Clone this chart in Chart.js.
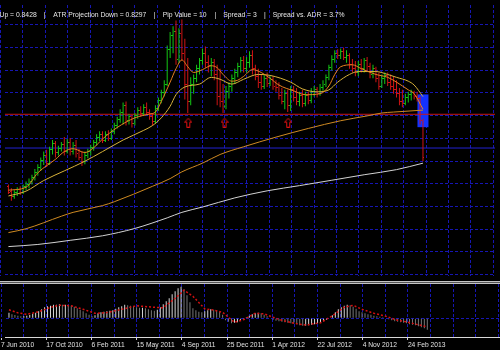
<!DOCTYPE html>
<html>
<head>
<meta charset="utf-8">
<title>Weekly chart with ATR projection</title>
<script src="https://cdn.jsdelivr.net/npm/chart.js@4.4.1/dist/chart.umd.min.js"></script>
<style>
  html, body { margin: 0; padding: 0; background: #000; }
  #wrap { position: relative; width: 500px; height: 350px; overflow: hidden; background: #000; }
  #priceChart { position: absolute; left: 0; top: 0; }
  #macdChart { position: absolute; left: 0; top: 281px; }
</style>
</head>
<body>
<div id="wrap">
  <canvas id="priceChart" width="500" height="281"></canvas>
  <canvas id="macdChart" width="500" height="69"></canvas>
</div>
<script>
// --- Data (one entry per weekly bar) ---
const barOpen = [
  .712, .707, .701, .706, .709, .706, .712, .714, .717, .721,
  .726, .732, .739, .744, .736, .750, .756, .747, .751, .755,
  .748, .757, .748, .754, .746, .742, .738, .744, .748, .752,
  .757, .763, .766, .760, .766, .762, .769, .775, .781, .789,
  .796, .780, .784, .777, .785, .791, .787, .794, .789, .784,
  .779, .793, .801, .809, .818, .854, .868, .873, .844, .870,
  .850, .818, .800, .818, .824, .834, .842, .850, .840, .837,
  .840, .828, .805, .800, .795, .810, .815, .824, .830, .836,
  .842, .834, .840, .848, .834, .826, .820, .816, .824, .819,
  .823, .816, .814, .806, .800, .808, .796, .812, .804, .800,
  .806, .798, .806, .801, .810, .812, .808, .814, .818, .825,
  .835, .844, .850, .848, .852, .846, .848, .838, .834, .830,
  .838, .834, .842, .836, .828, .834, .824, .816, .824, .827,
  .820, .816, .812, .808, .800, .798, .804, .807, .809, .805,
  .803, .780
];
const barHigh = [
  .714, .710, .708, .711, .712, .714, .717, .720, .724, .730,
  .735, .742, .748, .750, .753, .760, .759, .754, .758, .763,
  .761, .762, .758, .760, .751, .748, .748, .751, .755, .760,
  .766, .769, .769, .769, .770, .772, .778, .784, .792, .799,
  .800, .787, .786, .788, .794, .795, .797, .799, .792, .788,
  .796, .804, .812, .822, .858, .872, .878, .884, .876, .885,
  .865, .845, .825, .828, .838, .845, .855, .857, .848, .845,
  .844, .838, .834, .818, .816, .820, .828, .834, .840, .846,
  .847, .846, .852, .853, .838, .834, .828, .828, .830, .826,
  .826, .822, .820, .814, .812, .812, .816, .816, .814, .810,
  .812, .810, .810, .814, .816, .815, .818, .822, .828, .838,
  .848, .853, .854, .855, .856, .853, .850, .844, .842, .842,
  .844, .845, .846, .840, .838, .836, .830, .828, .830, .830,
  .828, .826, .822, .814, .812, .808, .810, .812, .811, .810,
  .805, .782
];
const barLow = [
  .704, .697, .699, .702, .703, .704, .708, .710, .714, .718,
  .723, .728, .734, .732, .734, .745, .742, .744, .748, .744,
  .746, .744, .745, .742, .739, .733, .735, .741, .744, .749,
  .754, .759, .757, .758, .759, .760, .766, .772, .778, .776,
  .775, .776, .773, .775, .782, .784, .785, .786, .781, .775,
  .777, .790, .798, .805, .816, .845, .850, .838, .840, .842,
  .802, .788, .796, .808, .820, .828, .838, .835, .830, .826,
  .822, .796, .794, .788, .792, .803, .810, .818, .825, .830,
  .830, .830, .835, .828, .822, .814, .812, .813, .815, .816,
  .812, .810, .802, .797, .792, .789, .790, .800, .796, .795,
  .794, .795, .797, .798, .805, .804, .806, .811, .815, .822,
  .832, .840, .844, .844, .843, .840, .834, .830, .826, .826,
  .830, .830, .832, .824, .824, .820, .812, .814, .818, .816,
  .812, .808, .804, .796, .794, .796, .799, .801, .802, .800,
  .776, .738
];
const barClose = [
  .706, .701, .706, .709, .706, .712, .714, .717, .721, .726,
  .732, .739, .744, .736, .750, .756, .747, .751, .755, .748,
  .757, .748, .754, .746, .742, .738, .744, .748, .752, .757,
  .763, .766, .760, .766, .762, .769, .775, .781, .789, .796,
  .780, .784, .777, .785, .791, .787, .794, .789, .784, .779,
  .793, .801, .809, .818, .854, .868, .873, .844, .870, .850,
  .818, .800, .818, .824, .834, .842, .850, .840, .837, .840,
  .828, .805, .800, .795, .810, .815, .824, .830, .836, .842,
  .834, .840, .848, .834, .826, .820, .816, .824, .819, .823,
  .816, .814, .806, .800, .808, .796, .812, .804, .800, .806,
  .798, .806, .801, .810, .812, .808, .814, .818, .825, .835,
  .844, .850, .848, .852, .846, .848, .838, .834, .830, .838,
  .834, .842, .836, .828, .834, .824, .816, .824, .827, .820,
  .816, .812, .808, .800, .798, .804, .807, .809, .805, .803,
  .780, .742
];

// moving averages, read at sampled bars
const fastMaBar = [0, 6, 10, 16, 19, 22, 26, 29, 32, 37, 43, 48, 50, 52, 55, 57, 59, 61, 63, 66, 69, 71, 73, 76, 78, 80, 83, 86, 89, 92, 97, 101, 106, 109, 111, 113, 117, 120, 125, 129, 132, 136, 138, 141];
const fastMaVal = [.708, .711, .726, .740, .748, .751, .747, .752, .761, .773, .783, .787, .789, .800, .820, .834, .843, .836, .830, .833, .837, .835, .828, .821, .822, .826, .833, .830, .824, .817, .811, .807, .808, .816, .828, .836, .838, .834, .828, .825, .820, .812, .808, .792];
const slowMaBar = [0, 6, 12, 19, 26, 32, 39, 46, 49, 52, 55, 57, 60, 65, 69, 72, 76, 80, 85, 89, 96, 100, 105, 109, 112, 116, 119, 125, 129, 132, 136, 138, 141];
const slowMaVal = [.702, .707, .718, .728, .738, .748, .760, .770, .775, .783, .795, .807, .815, .818, .825, .823, .818, .823, .828, .827, .820, .813, .810, .812, .820, .828, .831, .831, .828, .825, .821, .817, .805];
const ma100Bar = [0, 6, 18, 22, 32, 36, 49, 55, 59, 66, 72, 80, 91, 102, 113, 122, 127, 131, 141];
const ma100Val = [.664, .668, .681, .685, .692, .696, .712, .720, .727, .736, .745, .753, .763, .772, .780, .785, .788, .789, .791];
const ma200Bar = [0, 10, 21, 32, 43, 54, 59, 66, 77, 88, 99, 110, 121, 132, 141];
const ma200Val = [.6495, .6517, .656, .6607, .6683, .6793, .685, .6905, .700, .7073, .7127, .7183, .724, .7293, .736];

// horizontal levels, ATR projection box, arrows
const levelPrices = [0.7867, 0.7517];
const projBar = 141;
const projRange = [0.7733, 0.8073];
const arrowBar = [61.17, 73.5, 95.17];
const arrowPrice = [0.778, 0.778, 0.778];

// lower panel histogram and signal
const macdHist = [
  0.0055, 0.0040, 0.0033, 0.0025, 0.0020, 0.0020, 0.0025, 0.0033, 0.0045, 0.0055,
  0.0070, 0.0090, 0.0110, 0.0120, 0.0125, 0.0135, 0.0135, 0.0140, 0.0135, 0.0135,
  0.0130, 0.0125, 0.0115, 0.0100, 0.0085, 0.0070, 0.0050, 0.0035, 0.0020, 0.0030,
  0.0050, 0.0060, 0.0065, 0.0070, 0.0075, 0.0080, 0.0095, 0.0110, 0.0120, 0.0135,
  0.0130, 0.0125, 0.0120, 0.0110, 0.0105, 0.0105, 0.0100, 0.0090, 0.0080, 0.0075,
  0.0085, 0.0110, 0.0140, 0.0170, 0.0200, 0.0240, 0.0270, 0.0300, 0.0315, 0.0290,
  0.0230, 0.0160, 0.0100, 0.0080, 0.0065, 0.0060, 0.0070, 0.0080, 0.0090, 0.0085,
  0.0080, 0.0065, 0.0035, -0.0020, -0.0035, -0.0050, -0.0045, -0.0040, -0.0025, -0.0010,
  0.0010, 0.0025, 0.0040, 0.0050, 0.0055, 0.0050, 0.0035, 0.0020, 0.0005, -0.0015,
  -0.0025, -0.0030, -0.0035, -0.0040, -0.0045, -0.0050, -0.0055, -0.0060, -0.0070, -0.0075,
  -0.0075, -0.0070, -0.0065, -0.0060, -0.0050, -0.0040, -0.0030, -0.0015, 0.0005, 0.0030,
  0.0060, 0.0090, 0.0110, 0.0125, 0.0135, 0.0130, 0.0115, 0.0095, 0.0070, 0.0060,
  0.0050, 0.0040, 0.0035, 0.0025, 0.0020, 0.0015, 0.0010, 0.0005, -0.0010, -0.0020,
  -0.0030, -0.0035, -0.0040, -0.0045, -0.0050, -0.0060, -0.0065, -0.0070, -0.0080, -0.0090,
  -0.0100, -0.0115
];
const macdSigBar = [0, 3, 6, 10, 14, 17, 21, 25, 29, 33, 38, 43, 49, 52, 56, 59, 62, 66, 69, 72, 76, 79, 83, 86, 89, 92, 96, 100, 105, 109, 113, 116, 119, 123, 127, 131, 134, 138, 141];
const macdSigVal = [0.0085, 0.0055, 0.0040, 0.0065, 0.0110, 0.0130, 0.0125, 0.0090, 0.0050, 0.0057, 0.0090, 0.0125, 0.0110, 0.0105, 0.0200, 0.0280, 0.0220, 0.0095, 0.0083, 0.0060, -0.0040, -0.0015, 0.0050, 0.0045, 0.0010, -0.0020, -0.0050, -0.0067, -0.0045, 0.0025, 0.0110, 0.0130, 0.0090, 0.0050, 0.0020, -0.0020, -0.0035, -0.0065, -0.0085];

// --- Axes: grid positions (bar units / price units) and date labels ---
const timeGrid = [-2.686, 4.933, 12.552, 20.171, 27.790, 35.409, 43.028, 50.647, 58.266, 65.885, 73.504, 81.123, 88.742, 96.361, 103.980, 111.599, 119.218, 126.837, 134.456, 142.075, 149.694, 157.313, 164.932];
const timeLabels = ['7 Jun 2010', '', '17 Oct 2010', '', '6 Feb 2011', '', '15 May 2011', '', '4 Sep 2011', '', '25 Dec 2011', '', '1 Apr 2012', '', '22 Jul 2012', '', '4 Nov 2012', '', '24 Feb 2013', '', '', '', ''];
const priceGrid = [0.8793, 0.8558, 0.8323, 0.8088, 0.7853, 0.7618, 0.7382, 0.7147, 0.6912, 0.6677, 0.6442, 0.6207];
const headerParts = ['ATR Projection Up = 0.8428', 'ATR Projection Down = 0.8297', 'Pip Value = 10', 'Spread = 3', 'Spread vs. ADR = 3.7%'];

// --- Styles ---
const UP = '#14c814';
const DOWN = '#d01414';
const GRID = '#1616b4';
const DASH = [3, 2];
const X_MIN = -7 / 6;
const X_MAX = X_MIN + 500 / 3;
const FONT = '"Liberation Sans", Arial, sans-serif';

const pts = (xs, ys) => xs.map((x, i) => ({ x: x, y: ys[i] }));
const barColors = barClose.map((c, i) => c >= barOpen[i] ? UP : DOWN);

function makeArrow() {
  const c = document.createElement('canvas');
  c.width = 8; c.height = 10;
  const g = c.getContext('2d');
  g.strokeStyle = '#e01010';
  g.lineWidth = 1;
  g.beginPath();
  g.moveTo(4, 0.5); g.lineTo(0.5, 4.5); g.lineTo(2.5, 4.5); g.lineTo(2.5, 9.5);
  g.lineTo(5.5, 9.5); g.lineTo(5.5, 4.5); g.lineTo(7.5, 4.5); g.closePath();
  g.stroke();
  return c;
}

function maLine(xs, ys, color, order) {
  return {
    type: 'line', data: pts(xs, ys), borderColor: color, borderWidth: 1,
    pointRadius: 0, cubicInterpolationMode: 'monotone', order: order
  };
}

// --- Plugins ---
const ohlcTicks = {
  id: 'ohlcTicks',
  afterDatasetDraw(chart, args) {
    if (args.index !== 0) return;
    const xs = chart.scales.x, ys = chart.scales.y, ctx = chart.ctx;
    ctx.save();
    barClose.forEach((c, i) => {
      const x = Math.floor(xs.getPixelForValue(i));
      ctx.fillStyle = barColors[i];
      ctx.fillRect(x - 1, Math.round(ys.getPixelForValue(barOpen[i]) - 0.5), 1, 1);
      ctx.fillRect(x + 1, Math.round(ys.getPixelForValue(c) - 0.5), 1, 1);
    });
    ctx.restore();
  }
};

const header = {
  id: 'header',
  afterDraw(chart) {
    const ctx = chart.ctx;
    ctx.save();
    ctx.font = '6.8px ' + FONT;
    ctx.fillStyle = '#e6e6e6';
    ctx.textBaseline = 'middle';
    ctx.textAlign = 'right';
    ctx.fillText(headerParts[0], 36.7, 15);
    ctx.textAlign = 'left';
    const starts = [0, 53.3, 162.7, 223.3, 272.7];
    for (let k = 1; k < headerParts.length; k++) ctx.fillText(headerParts[k], starts[k], 15);
    ctx.textAlign = 'center';
    [44.3, 154.3, 215.7, 265].forEach(x => ctx.fillText('|', x, 15));
    ctx.restore();
  }
};

const separator = {
  id: 'separator',
  beforeDraw(chart) {
    const ctx = chart.ctx;
    ctx.save();
    ctx.fillStyle = '#c4c4c4'; ctx.fillRect(0, 0, 500, 1);
    ctx.fillStyle = '#555555'; ctx.fillRect(0, 1, 500, 1);
    ctx.fillStyle = '#c4c4c4'; ctx.fillRect(0, 2, 500, 1);
    ctx.restore();
  }
};

const common = {
  responsive: false,
  animation: false,
  devicePixelRatio: 1,
  events: [],
  plugins: { legend: { display: false }, tooltip: { enabled: false } }
};

// --- Price chart ---
new Chart(document.getElementById('priceChart'), {
  type: 'line',
  data: {
    datasets: [
      {
        type: 'bar', data: barClose.map((_, i) => ({ x: i, y: [barLow[i], barHigh[i]] })),
        backgroundColor: barColors, barThickness: 1, grouped: false, inflateAmount: 0, borderWidth: 0, order: 7
      },
      {
        type: 'bar', data: [{ x: projBar, y: projRange }], backgroundColor: '#1432ff',
        barThickness: 11, grouped: false, inflateAmount: 0, borderWidth: 0, order: 9
      },
      { type: 'line', data: pts([X_MIN - 1, X_MAX + 1], [levelPrices[0], levelPrices[0]]), borderColor: '#c81818', borderWidth: 1, pointRadius: 0, order: 8 },
      { type: 'line', data: pts([X_MIN - 1, X_MAX + 1], [levelPrices[1], levelPrices[1]]), borderColor: '#2222d2', borderWidth: 1, pointRadius: 0, order: 8 },
      maLine(ma200Bar, ma200Val, '#d2d2d2', 6),
      maLine(ma100Bar, ma100Val, '#cf8a22', 6),
      maLine(slowMaBar, slowMaVal, '#d8b23a', 4),
      maLine(fastMaBar, fastMaVal, '#e8801e', 3),
      {
        type: 'scatter', data: pts(arrowBar, arrowPrice), pointStyle: makeArrow(),
        pointRadius: 4, showLine: false, order: 1
      }
    ]
  },
  options: Object.assign({}, common, {
    layout: { padding: 0 },
    scales: {
      x: {
        type: 'linear', min: X_MIN, max: X_MAX, offset: false,
        grid: { color: GRID, drawTicks: false, offset: false },
        border: { display: false, dash: DASH },
        ticks: { display: false },
        afterBuildTicks: s => { s.ticks = timeGrid.map(v => ({ value: v })); },
        afterFit: s => { s.height = 0; }
      },
      y: {
        type: 'linear', min: 0.619, max: 0.9,
        grid: { color: GRID, drawTicks: false },
        border: { display: false, dash: DASH },
        ticks: { display: false },
        afterBuildTicks: s => { s.ticks = priceGrid.map(v => ({ value: v })); },
        afterFit: s => { s.width = 0; }
      }
    }
  }),
  plugins: [ohlcTicks, header]
});

// --- Histogram panel ---
new Chart(document.getElementById('macdChart'), {
  type: 'line',
  data: {
    datasets: [
      {
        type: 'bar', data: pts(macdHist.map((_, i) => i), macdHist),
        backgroundColor: macdHist.map((v, i) => (i > 0 && v < macdHist[i - 1]) ? '#767676' : '#d6d6d6'),
        barThickness: 1, grouped: false, inflateAmount: 0, borderWidth: 0, order: 2
      },
      {
        type: 'line', data: pts(macdSigBar, macdSigVal), borderColor: '#d41010', borderWidth: 1.5,
        borderDash: [2, 2], pointRadius: 0, order: 1
      }
    ]
  },
  options: Object.assign({}, common, {
    layout: { padding: { top: 3, left: 0, right: 0, bottom: 0 } },
    scales: {
      x: {
        type: 'linear', min: X_MIN, max: X_MAX, offset: false,
        grid: {
          color: GRID, offset: false, drawTicks: true, tickLength: 3, tickWidth: 1,
          tickColor: c => (timeLabels[c.index] ? '#d0d0d0' : 'rgba(0,0,0,0)')
        },
        border: { display: true, color: '#d8d8d8', width: 1, dash: DASH },
        ticks: {
          autoSkip: false, maxRotation: 0, minRotation: 0, align: 'start', padding: 1,
          color: '#e2e2e2', font: { family: FONT, size: 6.7 },
          callback: (v, idx) => timeLabels[idx]
        },
        afterBuildTicks: s => { s.ticks = timeGrid.map(v => ({ value: v })); },
        afterFit: s => { s.height = 13; }
      },
      y: {
        type: 'linear', min: -0.0187, max: 0.0343,
        grid: { color: GRID, drawTicks: false },
        border: { display: false, dash: DASH },
        ticks: { display: false },
        afterBuildTicks: s => { s.ticks = [{ value: 0 }]; },
        afterFit: s => { s.width = 0; }
      }
    }
  }),
  plugins: [separator]
});
</script>
</body>
</html>
